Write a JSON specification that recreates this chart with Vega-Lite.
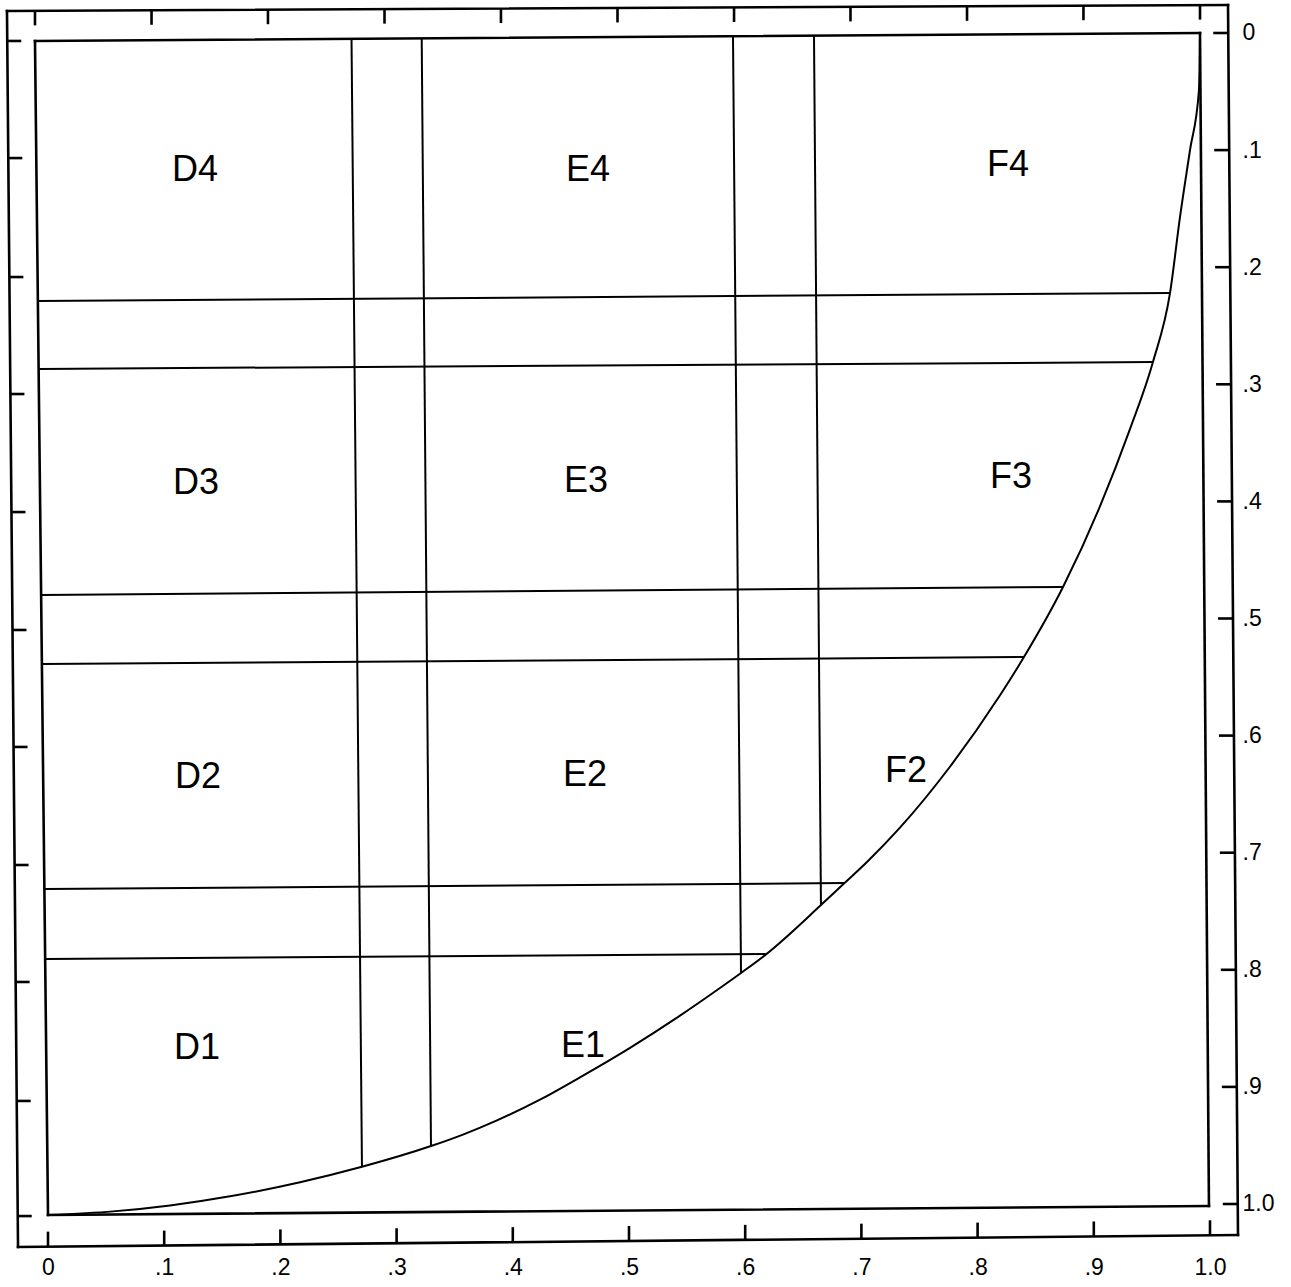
{
  "$schema": "https://vega.github.io/schema/vega-lite/v6.json",
  "width": 1221,
  "height": 1233,
  "autosize": "none",
  "padding": {"left": 12, "top": 8, "right": 58, "bottom": 46},
  "background": "white",
  "config": {
    "view": {"stroke": null},
    "axis": {
      "domain": false, "ticks": false, "tickSize": 0, "grid": false, "title": null,
      "labelFont": "Liberation Sans", "labelFontSize": 23, "labelColor": "black",
      "labelFlush": false, "labelOverlap": false, "labelBound": false
    }
  },
  "datasets": {
    "frame": [
      {"x": -0.0353, "y": -0.0188, "x2": 1.0155, "y2": -0.0239},
      {"x": 1.0155, "y": -0.0239, "x2": 1.0241, "y2": 1.0265},
      {"x": 1.0241, "y": 1.0265, "x2": -0.0258, "y2": 1.0367},
      {"x": -0.0258, "y": 1.0367, "x2": -0.0353, "y2": -0.0188},
      {"x": -0.0112, "y": 0.0068, "x2": 0.9914, "y2": 0.0},
      {"x": 0.9914, "y": 0.0, "x2": 0.9991, "y2": 1.0017},
      {"x": 0.9991, "y": 1.0017, "x2": 0.0, "y2": 1.0094},
      {"x": 0.0, "y": 1.0094, "x2": -0.0112, "y2": 0.0068}
    ],
    "grid": [
      {"x": 0.2612, "y": 0.0050, "x2": 0.2702, "y2": 0.9684},
      {"x": 0.3216, "y": 0.0045, "x2": 0.3296, "y2": 0.9505},
      {"x": 0.5895, "y": 0.0026, "x2": 0.5964, "y2": 0.8027},
      {"x": 0.6592, "y": 0.0021, "x2": 0.6652, "y2": 0.7447},
      {"x": -0.0086, "y": 0.2289, "x2": 0.9656, "y2": 0.2220},
      {"x": -0.0078, "y": 0.2869, "x2": 0.9510, "y2": 0.2810},
      {"x": -0.0056, "y": 0.4799, "x2": 0.8735, "y2": 0.4731},
      {"x": -0.0052, "y": 0.5389, "x2": 0.8399, "y2": 0.5329},
      {"x": -0.0026, "y": 0.7310, "x2": 0.6850, "y2": 0.7259},
      {"x": -0.0017, "y": 0.7908, "x2": 0.6179, "y2": 0.7865}
    ],
    "ticks": [
      {"x": 0.0, "y": 1.0365, "x2": 0.0, "y2": 1.0236},
      {"x": 0.1, "y": 1.0355, "x2": 0.1, "y2": 1.0227},
      {"x": 0.2, "y": 1.0345, "x2": 0.2, "y2": 1.0217},
      {"x": 0.3, "y": 1.0335, "x2": 0.3, "y2": 1.0207},
      {"x": 0.4, "y": 1.0326, "x2": 0.4, "y2": 1.0198},
      {"x": 0.5, "y": 1.0316, "x2": 0.5, "y2": 1.0188},
      {"x": 0.6, "y": 1.0306, "x2": 0.6, "y2": 1.0178},
      {"x": 0.7, "y": 1.0296, "x2": 0.7, "y2": 1.0168},
      {"x": 0.8, "y": 1.0287, "x2": 0.8, "y2": 1.0159},
      {"x": 0.9, "y": 1.0277, "x2": 0.9, "y2": 1.0149},
      {"x": 1.0, "y": 1.0267, "x2": 1.0, "y2": 1.0139},
      {"x": -0.0112, "y": -0.0189, "x2": -0.0112, "y2": -0.0065},
      {"x": 0.0891, "y": -0.0194, "x2": 0.0891, "y2": -0.0070},
      {"x": 0.1893, "y": -0.0199, "x2": 0.1893, "y2": -0.0075},
      {"x": 0.2896, "y": -0.0204, "x2": 0.2896, "y2": -0.0080},
      {"x": 0.3898, "y": -0.0209, "x2": 0.3898, "y2": -0.0085},
      {"x": 0.4901, "y": -0.0214, "x2": 0.4901, "y2": -0.0090},
      {"x": 0.5904, "y": -0.0218, "x2": 0.5904, "y2": -0.0094},
      {"x": 0.6906, "y": -0.0223, "x2": 0.6906, "y2": -0.0099},
      {"x": 0.7909, "y": -0.0228, "x2": 0.7909, "y2": -0.0104},
      {"x": 0.8911, "y": -0.0233, "x2": 0.8911, "y2": -0.0109},
      {"x": 0.9914, "y": -0.0238, "x2": 0.9914, "y2": -0.0114},
      {"x": -0.0351, "y": 0.0068, "x2": -0.0230, "y2": 0.0068},
      {"x": -0.0342, "y": 0.1068, "x2": -0.0221, "y2": 0.1068},
      {"x": -0.0332, "y": 0.2084, "x2": -0.0212, "y2": 0.2084},
      {"x": -0.0324, "y": 0.3083, "x2": -0.0203, "y2": 0.3083},
      {"x": -0.0315, "y": 0.4091, "x2": -0.0194, "y2": 0.4091},
      {"x": -0.0305, "y": 0.5098, "x2": -0.0185, "y2": 0.5098},
      {"x": -0.0297, "y": 0.6097, "x2": -0.0176, "y2": 0.6097},
      {"x": -0.0287, "y": 0.7105, "x2": -0.0167, "y2": 0.7105},
      {"x": -0.0279, "y": 0.8104, "x2": -0.0158, "y2": 0.8104},
      {"x": -0.0269, "y": 0.9120, "x2": -0.0149, "y2": 0.9120},
      {"x": -0.0261, "y": 1.0103, "x2": -0.0140, "y2": 1.0103},
      {"x": 1.0028, "y": 0.0, "x2": 1.0157, "y2": 0.0},
      {"x": 1.0036, "y": 0.1, "x2": 1.0165, "y2": 0.1},
      {"x": 1.0044, "y": 0.2, "x2": 1.0173, "y2": 0.2},
      {"x": 1.0052, "y": 0.3, "x2": 1.0181, "y2": 0.3},
      {"x": 1.0061, "y": 0.4, "x2": 1.0190, "y2": 0.4},
      {"x": 1.0069, "y": 0.5, "x2": 1.0198, "y2": 0.5},
      {"x": 1.0077, "y": 0.6, "x2": 1.0206, "y2": 0.6},
      {"x": 1.0085, "y": 0.7, "x2": 1.0214, "y2": 0.7},
      {"x": 1.0093, "y": 0.8, "x2": 1.0222, "y2": 0.8},
      {"x": 1.0102, "y": 0.9, "x2": 1.0231, "y2": 0.9},
      {"x": 1.0110, "y": 1.0, "x2": 1.0239, "y2": 1.0}
    ],
    "curve": [
      {"x": 0.0, "y": 1.0094},
      {"x": 0.0559, "y": 1.0063},
      {"x": 0.1050, "y": 1.0012},
      {"x": 0.1592, "y": 0.9930},
      {"x": 0.2169, "y": 0.9814},
      {"x": 0.2702, "y": 0.9682},
      {"x": 0.3296, "y": 0.9505},
      {"x": 0.3571, "y": 0.9407},
      {"x": 0.3864, "y": 0.9286},
      {"x": 0.4234, "y": 0.9109},
      {"x": 0.4578, "y": 0.8918},
      {"x": 0.5009, "y": 0.8666},
      {"x": 0.5439, "y": 0.8391},
      {"x": 0.5783, "y": 0.8155},
      {"x": 0.5964, "y": 0.8027},
      {"x": 0.6179, "y": 0.7868},
      {"x": 0.6652, "y": 0.7447},
      {"x": 0.6850, "y": 0.7263},
      {"x": 0.7048, "y": 0.7079},
      {"x": 0.7332, "y": 0.6786},
      {"x": 0.7762, "y": 0.6266},
      {"x": 0.8193, "y": 0.5656},
      {"x": 0.8399, "y": 0.5329},
      {"x": 0.8735, "y": 0.4731},
      {"x": 0.9053, "y": 0.4043},
      {"x": 0.9312, "y": 0.3381},
      {"x": 0.9509, "y": 0.2810},
      {"x": 0.9656, "y": 0.2220},
      {"x": 0.9742, "y": 0.1571},
      {"x": 0.9828, "y": 0.0999},
      {"x": 0.9905, "y": 0.0487},
      {"x": 0.9914, "y": 0.0}
    ],
    "cells": [
      {"x": 0.1265, "y": 0.1170, "label": "D4"},
      {"x": 0.4647, "y": 0.1170, "label": "E4"},
      {"x": 0.8262, "y": 0.1127, "label": "F4"},
      {"x": 0.1274, "y": 0.3843, "label": "D3"},
      {"x": 0.4630, "y": 0.3826, "label": "E3"},
      {"x": 0.8287, "y": 0.3792, "label": "F3"},
      {"x": 0.1291, "y": 0.6354, "label": "D2"},
      {"x": 0.4621, "y": 0.6336, "label": "E2"},
      {"x": 0.7384, "y": 0.6302, "label": "F2"},
      {"x": 0.1282, "y": 0.8668, "label": "D1"},
      {"x": 0.4604, "y": 0.8651, "label": "E1"}
    ]
  },
  "encoding": {
    "x": {
      "field": "x", "type": "quantitative",
      "scale": {"domain": [-0.030981, 1.019793], "nice": false, "zero": false},
      "axis": {
        "orient": "bottom",
        "values": [0, 0.1, 0.2, 0.3, 0.4, 0.5, 0.6, 0.7, 0.8, 0.9, 1],
        "labelExpr": "datum.value == 0 ? '0' : (datum.value == 1 ? '1.0' : '.' + round(datum.value * 10))",
        "labelPadding": 15
      }
    },
    "y": {
      "field": "y", "type": "quantitative",
      "scale": {"domain": [-0.021349, 1.031597], "reverse": true, "nice": false, "zero": false},
      "axis": {
        "orient": "right",
        "values": [0, 0.1, 0.2, 0.3, 0.4, 0.5, 0.6, 0.7, 0.8, 0.9, 1],
        "labelExpr": "datum.value == 0 ? '0' : (datum.value == 1 ? '1.0' : '.' + round(datum.value * 10))",
        "labelPadding": 9,
        "labelAlign": "left",
        "labelBaseline": "middle"
      }
    }
  },
  "layer": [
    {
      "data": {"name": "frame"},
      "mark": {"type": "rule", "color": "black", "strokeWidth": 2.6, "strokeCap": "square"},
      "encoding": {"x2": {"field": "x2"}, "y2": {"field": "y2"}}
    },
    {
      "data": {"name": "grid"},
      "mark": {"type": "rule", "color": "black", "strokeWidth": 2},
      "encoding": {"x2": {"field": "x2"}, "y2": {"field": "y2"}}
    },
    {
      "data": {"name": "ticks"},
      "mark": {"type": "rule", "color": "black", "strokeWidth": 2.6},
      "encoding": {"x2": {"field": "x2"}, "y2": {"field": "y2"}}
    },
    {
      "data": {"name": "curve"},
      "mark": {"type": "line", "color": "black", "strokeWidth": 2, "interpolate": "monotone"},
      "encoding": {}
    },
    {
      "data": {"name": "cells"},
      "mark": {"type": "text", "font": "Liberation Sans", "fontSize": 36, "color": "black", "align": "center", "baseline": "middle"},
      "encoding": {"text": {"field": "label"}}
    }
  ]
}
